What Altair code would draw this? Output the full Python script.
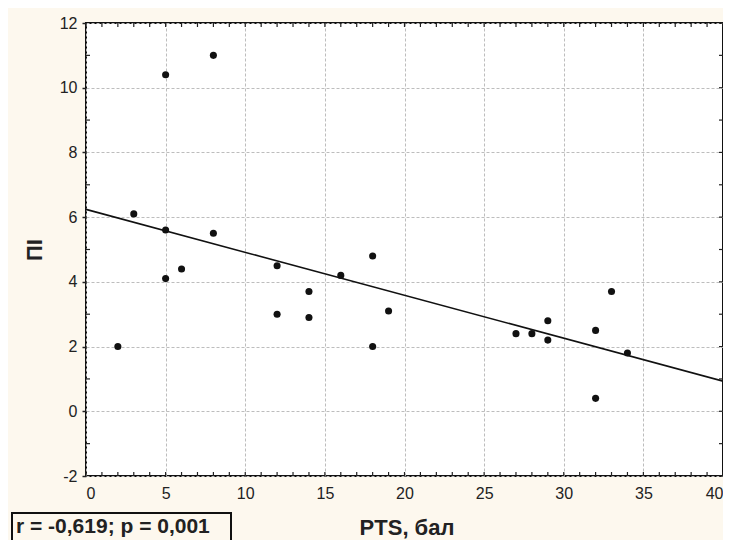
import altair as alt
import pandas as pd

# ---- data ----
pts_x = [2, 3, 5, 5, 5, 6, 8, 8, 12, 12, 14, 14, 16, 18, 18, 19, 27, 28, 29, 29, 32, 32, 33, 34]
pi_y = [2.0, 6.1, 10.4, 5.6, 4.1, 4.4, 11.0, 5.5, 4.5, 3.0, 3.7, 2.9, 4.2, 4.8, 2.0, 3.1,
        2.4, 2.4, 2.8, 2.2, 2.5, 0.4, 3.7, 1.8]
fit_x = [0, 40]
fit_y = [6.24, 0.93]
x_ticks = [0, 5, 10, 15, 20, 25, 30, 35, 40]
y_ticks = [-2, 0, 2, 4, 6, 8, 10, 12]
x_minor = list(range(0, 41))
y_minor_left = [-1, 1, 3, 5, 7, 9, 11]
y_minor_right = list(range(-2, 13))
annotation = "r = -0,619; p = 0,001"
x_title = "PTS, бал"
y_title = "ПІ"

W, H = 637, 453
FONT = "Liberation Sans"
BG = "#fdf8ee"

pts = pd.DataFrame({"x": pts_x, "y": pi_y})
fit = pd.DataFrame({"x": fit_x, "y": fit_y})

xs = alt.Scale(domain=[0, 40], nice=False, zero=False)
ys = alt.Scale(domain=[-2, 12], nice=False, zero=False)

grid_axis_x = alt.Axis(values=x_ticks, grid=True, gridColor="#bdbdbd", gridDash=[3, 2],
                       gridWidth=1, ticks=False, domain=False, labelFont=FONT,
                       labelFontSize=16, labelColor="#222", labelPadding=9,
                       labelExpr="'' + datum.value",
                       title=x_title, titleFont=FONT, titleFontSize=22,
                       titleFontWeight="bold", titleColor="#222", titleX=W / 2 + 2,
                       titleY=58, titleBaseline="alphabetic", titleAlign="center")
grid_axis_y = alt.Axis(values=y_ticks, grid=True, gridColor="#bdbdbd", gridDash=[3, 2],
                       gridWidth=1, ticks=True, tickSize=4, tickColor="#222", tickWidth=1.5,
                       domain=False, labelFont=FONT, labelFontSize=16, labelColor="#222",
                       labelPadding=5, labelExpr="'' + datum.value",
                       title=y_title, titleFont=FONT, titleFontSize=22,
                       titleFontWeight="bold", titleColor="#222", titleX=-52,
                       titleY=H / 2, titleAngle=270, titleBaseline="middle",
                       titleAlign="center")

points = alt.Chart(pts).mark_circle(size=50, color="#111", opacity=1).encode(
    x=alt.X("x:Q", scale=xs, axis=grid_axis_x),
    y=alt.Y("y:Q", scale=ys, axis=grid_axis_y),
)

line = alt.Chart(fit).mark_line(color="#111", strokeWidth=1.6).encode(
    x=alt.X("x:Q", scale=xs), y=alt.Y("y:Q", scale=ys)
)

tick_col = "#222"
bx = pd.DataFrame({"x": x_minor})
bottom_ticks = alt.Chart(bx).mark_rule(color=tick_col, strokeWidth=1.2).encode(
    x=alt.X("x:Q", scale=xs), y=alt.value(H), y2=alt.value(H - 4))
top_ticks = alt.Chart(bx).mark_rule(color=tick_col, strokeWidth=1.2).encode(
    x=alt.X("x:Q", scale=xs), y=alt.value(0), y2=alt.value(4))
left_ticks = alt.Chart(pd.DataFrame({"y": y_minor_left})).mark_rule(
    color=tick_col, strokeWidth=1.2).encode(
    y=alt.Y("y:Q", scale=ys), x=alt.value(0), x2=alt.value(4))
right_ticks = alt.Chart(pd.DataFrame({"y": y_minor_right})).mark_rule(
    color=tick_col, strokeWidth=1.2).encode(
    y=alt.Y("y:Q", scale=ys), x=alt.value(W), x2=alt.value(W - 4))

ann = pd.DataFrame({"t": [annotation]})
box = alt.Chart(ann).mark_rect(fillOpacity=0, stroke="#111", strokeWidth=2).encode(
    x=alt.value(-74), x2=alt.value(145), y=alt.value(490), y2=alt.value(560))
txt = alt.Chart(ann).mark_text(align="left", baseline="alphabetic", font=FONT,
                               fontSize=21, fontWeight="bold", color="#222").encode(
    x=alt.value(-70), y=alt.value(510), text="t:N")

chart = alt.layer(points, line, bottom_ticks, top_ticks, left_ticks, right_ticks, box, txt
).properties(
    width=W, height=H, background=BG,
    autosize=alt.AutoSizeParams(type="none"),
    padding={"left": 78, "top": 15, "right": 0, "bottom": 64},
).configure_view(stroke="#111", strokeWidth=2, fill="white")

chart.save("out.html", embed_options={"renderer": "svg", "actions": False})
